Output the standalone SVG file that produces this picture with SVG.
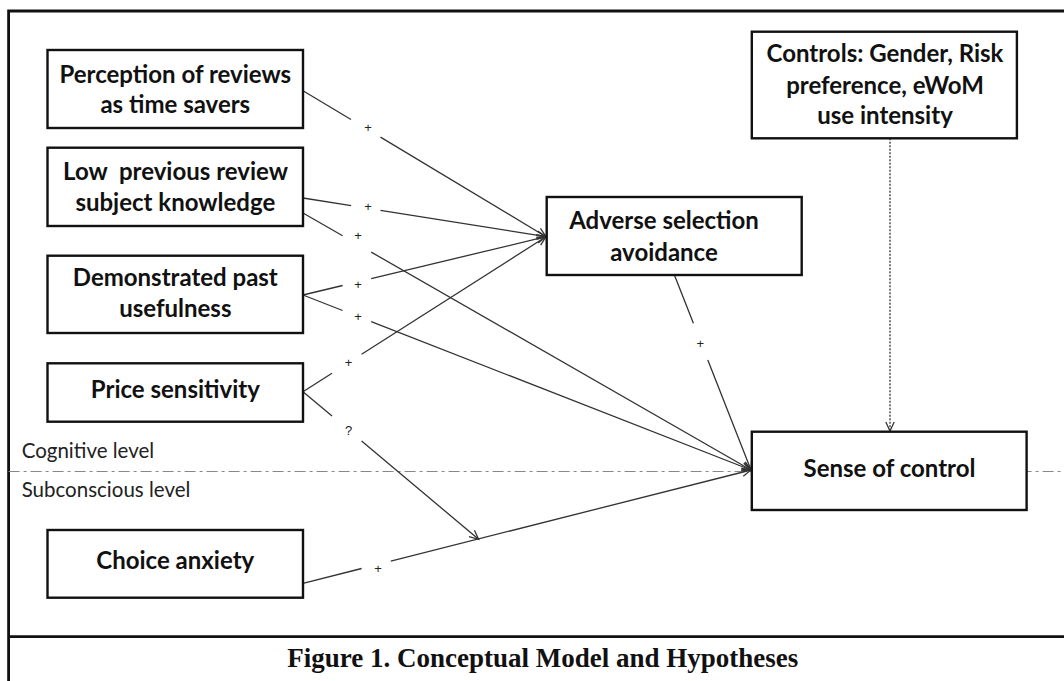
<svg xmlns="http://www.w3.org/2000/svg" width="1064" height="681" viewBox="0 0 1064 681">
<style>
.box{fill:#fff;stroke:#111;stroke-width:2.4}
.nt{font-family:Lato,"Open Sans","Liberation Sans",sans-serif;font-weight:bold;font-size:24px;fill:#111;text-anchor:middle}
.lvl{font-family:Lato,"Open Sans","Liberation Sans",sans-serif;font-size:20.5px;fill:#222}
.lbl{font-family:"Liberation Sans",Arial,sans-serif;font-size:13px;fill:#222;text-anchor:middle}
.edge{fill:none;stroke:#333;stroke-width:1.3}
.frame{fill:none;stroke:#111;stroke-width:2.8}
.cap{font-family:"Liberation Serif","Times New Roman",serif;font-weight:bold;font-size:27px;fill:#111;text-anchor:middle}
</style>
<defs>
<marker id="arr" markerUnits="userSpaceOnUse" markerWidth="14" markerHeight="14" viewBox="0 0 14 14" refX="12" refY="7" orient="auto">
<path d="M3,2.8 L12,7 L3,11.2" fill="none" stroke="#333" stroke-width="1.3"/>
</marker>
</defs>
<rect width="1064" height="681" fill="#fff"/>
<g id="frame">
<path class="frame" d="M8.6,681 L8.6,11 L1064,11"/>
<path class="frame" d="M8.6,636.7 L1064,636.7"/>
</g>
<g id="levels">
<path d="M8.6,471.5 L1064,471.5" stroke="#888" stroke-width="1" stroke-dasharray="11 4 3 4" fill="none"/>
<text class="lvl" x="21.7" y="458.3">Cognitive level</text>
<text class="lvl" x="21.7" y="496.7">Subconscious level</text>
</g>
<g id="connectors">
<path class="edge" marker-end="url(#arr)" d="M303,90.7 L351,119.5 M380.5,137.1 L546,236.7"/>
<path class="edge" marker-end="url(#arr)" d="M303,198 L351.2,205.7 M380.5,210.3 L546,236.7"/>
<path class="edge" marker-end="url(#arr)" d="M303,213 L342.6,235.7 M371.2,252.1 L751,470"/>
<path class="edge" marker-end="url(#arr)" d="M303,295 L342.6,285.5 M371.2,278.6 L546,236.7"/>
<path class="edge" marker-end="url(#arr)" d="M303,295 L342.6,310.5 M371.2,321.6 L751,470"/>
<path class="edge" marker-end="url(#arr)" d="M303,391.7 L332,373.2 M361.6,354.3 L546,236.7"/>
<path class="edge" marker-end="url(#arr)" d="M303,391.7 L332,416.1 M361.6,441 L478.6,539.3"/>
<path class="edge" marker-end="url(#arr)" d="M303,583.3 L361.6,568.5 M390.8,561.1 L751,470"/>
<path class="edge" marker-end="url(#arr)" d="M674.4,275 L693.4,323.3 M707.8,360 L751,470"/>
<path class="edge" marker-end="url(#arr)" stroke-dasharray="2 1.5" stroke="#555" stroke-width="1" d="M890,138.3 L890,431"/>
<g id="edge-labels">
<text class="lbl" x="368" y="132">+</text>
<text class="lbl" x="368" y="210.5">+</text>
<text class="lbl" x="358" y="239.5">+</text>
<text class="lbl" x="358" y="288.5">+</text>
<text class="lbl" x="358" y="321">+</text>
<text class="lbl" x="348.5" y="366.5">+</text>
<text class="lbl" x="348.5" y="434.5">?</text>
<text class="lbl" x="378" y="572.5">+</text>
<text class="lbl" x="700.4" y="347.5">+</text>
</g>
</g>
<g id="perception">
<rect class="box" x="47.5" y="50" width="255.5" height="78"/>
<text class="nt" x="175.3" y="83">Perception of reviews</text>
<text class="nt" x="175.3" y="113.3">as time savers</text>
</g>
<g id="low-knowledge">
<rect class="box" x="47.5" y="147.7" width="255.5" height="78.3"/>
<text class="nt" x="175.5" y="180" xml:space="preserve">Low  previous review</text>
<text class="nt" x="175.3" y="210.5">subject knowledge</text>
</g>
<g id="demonstrated">
<rect class="box" x="47.5" y="255.7" width="255.5" height="77.3"/>
<text class="nt" x="175.3" y="286">Demonstrated past</text>
<text class="nt" x="175.3" y="316.7">usefulness</text>
</g>
<g id="price">
<rect class="box" x="47.5" y="363.3" width="255.5" height="58.4"/>
<text class="nt" x="175.3" y="398">Price sensitivity</text>
</g>
<g id="anxiety">
<rect class="box" x="47.5" y="530" width="255.5" height="67.7"/>
<text class="nt" x="175.3" y="569">Choice anxiety</text>
</g>
<g id="adverse">
<rect class="box" x="546.7" y="197" width="255" height="78"/>
<text class="nt" x="664" y="229.3">Adverse selection</text>
<text class="nt" x="664" y="260.7">avoidance</text>
</g>
<g id="controls">
<rect class="box" x="751.8" y="31.7" width="265.1" height="106.6"/>
<text class="nt" x="885" y="62.3">Controls: Gender, Risk</text>
<text class="nt" x="885" y="94">preference, eWoM</text>
<text class="nt" x="885" y="124">use intensity</text>
</g>
<g id="sense">
<rect class="box" x="751.8" y="431.7" width="274.8" height="78.3"/>
<text class="nt" x="889.5" y="476.7">Sense of control</text>
</g>
<g id="caption">
<text class="cap" x="542.7" y="667">Figure 1. Conceptual Model and Hypotheses</text>
</g>
</svg>
